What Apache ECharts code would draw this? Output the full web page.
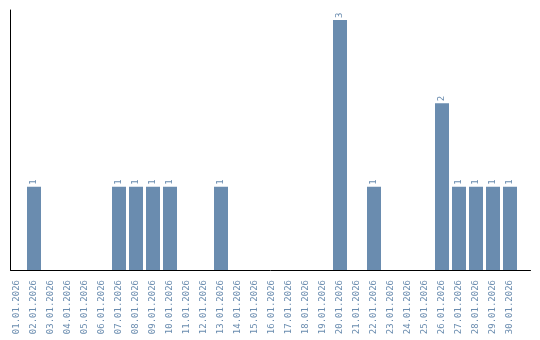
<!DOCTYPE html>
<html><head><meta charset="utf-8">
<script src="https://cdn.jsdelivr.net/npm/echarts@6/dist/echarts.min.js"></script>
<style>html,body{margin:0;padding:0;background:#fff}#c{width:540px;height:340px}</style>
</head><body><div id="c"></div>
<script>
const categories = ['01.01.2026','02.01.2026','03.01.2026','04.01.2026','05.01.2026','06.01.2026','07.01.2026','08.01.2026','09.01.2026','10.01.2026','11.01.2026','12.01.2026','13.01.2026','14.01.2026','15.01.2026','16.01.2026','17.01.2026','18.01.2026','19.01.2026','20.01.2026','21.01.2026','22.01.2026','23.01.2026','24.01.2026','25.01.2026','26.01.2026','27.01.2026','28.01.2026','29.01.2026','30.01.2026'];
const values = [0,1,0,0,0,0,1,1,1,1,0,0,1,0,0,0,0,0,0,3,0,1,0,0,0,2,1,1,1,1];
const yMax = 3.12;
const color = '#6a8caf';
const font = 'DejaVu Sans Mono';

const chart = echarts.init(document.getElementById('c'), null, {renderer:'canvas'});
chart.setOption({
  animation:false,
  grid:[
    {left:10.5, right:9.5, top:10, bottom:70},
    {left:8.5, width:510, top:10, bottom:70}
  ],
  xAxis:[
    {gridIndex:0, type:'category', data:categories, axisLine:{lineStyle:{color:'#000',width:1}}, axisTick:{show:false}, axisLabel:{show:false}, splitLine:{show:false}},
    {gridIndex:1, type:'category', data:categories, axisLine:{show:false}, axisTick:{show:false},
     axisLabel:{interval:0, rotate:90, color:color, fontFamily:font, fontSize:9, margin:10}}
  ],
  yAxis:[
    {gridIndex:0, type:'value', min:0, max:yMax, axisLine:{show:true, lineStyle:{color:'#000',width:1}}, axisTick:{show:false}, axisLabel:{show:false}, splitLine:{show:false}},
    {gridIndex:1, type:'value', min:0, max:yMax, axisLine:{show:false}, axisTick:{show:false}, axisLabel:{show:false}, splitLine:{show:false}}
  ],
  series:[{
    type:'bar', xAxisIndex:1, yAxisIndex:1, barWidth:14,
    data: values.map(v => v === 0 ? null : v),
    itemStyle:{color:color},
    label:{show:true, position:'top', rotate:90, align:'left', verticalAlign:'middle', distance:2, color:color, fontFamily:font, fontSize:9}
  }]
});
</script></body></html>
